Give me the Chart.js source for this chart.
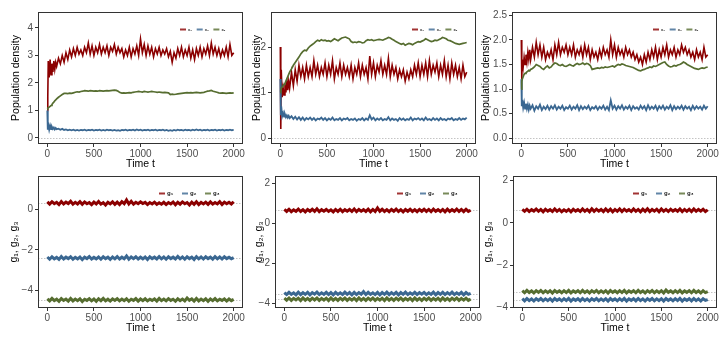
<!DOCTYPE html>
<html>
<head>
<meta charset="utf-8">
<script src="https://cdn.jsdelivr.net/npm/chart.js@4/dist/chart.umd.min.js"></script>
<style>
  html, body { margin: 0; padding: 0; background: #fff; }
  body { width: 727px; height: 338px; position: relative; overflow: hidden; }
  .panel { position: absolute; }
</style>
</head>
<body>
<script>
// time grid of the upper panels (finer at the start)
const tTop = [0, 5, 10, 20, 30, 40, 50, 60, 70, 80, 90, 100,
  120, 140, 160, 180, 200, 220, 240, 260, 280, 300,
  320, 340, 360, 380, 400, 420, 440, 460, 480, 500,
  520, 540, 560, 580, 600, 620, 640, 660, 680, 700,
  720, 740, 760, 780, 800, 820, 840, 860, 880, 900,
  920, 940, 960, 980, 1000, 1020, 1040, 1060, 1080, 1100,
  1120, 1140, 1160, 1180, 1200, 1220, 1240, 1260, 1280, 1300,
  1320, 1340, 1360, 1380, 1400, 1420, 1440, 1460, 1480, 1500,
  1520, 1540, 1560, 1580, 1600, 1620, 1640, 1660, 1680, 1700,
  1720, 1740, 1760, 1780, 1800, 1820, 1840, 1860, 1880, 1900,
  1920, 1940, 1960, 1980, 2000]

// time grid of the lower panels
const tBot = [0, 25, 50, 75, 100, 125, 150, 175, 200, 225,
  250, 275, 300, 325, 350, 375, 400, 425, 450, 475,
  500, 525, 550, 575, 600, 625, 650, 675, 700, 725,
  750, 775, 800, 825, 850, 875, 900, 925, 950, 975,
  1000, 1025, 1050, 1075, 1100, 1125, 1150, 1175, 1200, 1225,
  1250, 1275, 1300, 1325, 1350, 1375, 1400, 1425, 1450, 1475,
  1500, 1525, 1550, 1575, 1600, 1625, 1650, 1675, 1700, 1725,
  1750, 1775, 1800, 1825, 1850, 1875, 1900, 1925, 1950, 1975,
  2000]

// panel 1: population densities
const red1 = [1.0, 1.5, 2.8, 2.2, 2.85, 2.3, 2.7, 2.4, 2.8, 2.5, 2.75, 2.6,
  2.9, 2.7, 3.0, 2.75, 3.1, 2.85, 3.2, 2.95, 3.25, 3.0,
  3.3, 3.05, 3.2, 3.0, 3.3, 3.1, 3.45, 3.05, 3.35, 3.0,
  3.3, 3.1, 3.4, 3.05, 3.3, 3.1, 3.35, 3.0, 3.3, 3.15,
  3.4, 3.05, 3.3, 3.1, 3.25, 2.95, 3.2, 3.0, 3.3, 2.95,
  3.25, 3.05, 3.35, 3.0, 3.6, 3.1, 3.4, 3.0, 3.35, 3.05,
  3.3, 2.95, 3.25, 3.05, 3.3, 3.0, 3.2, 3.05, 3.25, 2.95,
  3.15, 2.75, 3.1, 2.9, 3.25, 3.0, 3.3, 2.95, 3.2, 3.0,
  3.3, 2.9, 3.2, 2.85, 3.25, 3.0, 3.3, 2.95, 3.25, 3.05,
  3.35, 3.0, 3.45, 3.05, 3.3, 3.0, 3.25, 2.95, 3.2, 3.0,
  3.3, 2.95, 3.4, 3.0, 3.1]
const green1 = [1.05, 1.08, 1.1, 1.12, 1.15, 1.18, 1.22, 1.27, 1.3, 1.35, 1.38, 1.42,
  1.48, 1.53, 1.58, 1.62, 1.62, 1.61, 1.63, 1.62, 1.64, 1.66,
  1.68, 1.67, 1.69, 1.7, 1.72, 1.71, 1.7, 1.72, 1.71, 1.7,
  1.71, 1.7, 1.72, 1.71, 1.7, 1.71, 1.72, 1.71, 1.72, 1.73,
  1.74, 1.73, 1.7, 1.65, 1.63, 1.64, 1.63, 1.64, 1.65, 1.64,
  1.66, 1.67, 1.68, 1.69, 1.68, 1.67, 1.69, 1.68, 1.67, 1.68,
  1.69, 1.68, 1.67, 1.66, 1.67, 1.66, 1.65, 1.66, 1.65, 1.64,
  1.58, 1.59, 1.58, 1.59, 1.6, 1.61, 1.62, 1.63, 1.64, 1.65,
  1.64, 1.65, 1.64, 1.65, 1.66, 1.65, 1.64, 1.65, 1.66, 1.68,
  1.7, 1.71, 1.73, 1.7, 1.68, 1.66, 1.64, 1.63, 1.64, 1.63,
  1.62, 1.63, 1.64, 1.63, 1.64]
const blue1 = [1.0, 0.3, 0.5, 0.3, 0.45, 0.32, 0.4, 0.33, 0.38, 0.31, 0.36, 0.32,
  0.34, 0.3, 0.33, 0.29, 0.31, 0.28, 0.3, 0.28, 0.3, 0.27,
  0.29, 0.27, 0.29, 0.28, 0.3, 0.27, 0.29, 0.28, 0.3, 0.27,
  0.29, 0.28, 0.3, 0.27, 0.29, 0.27, 0.3, 0.28, 0.29, 0.27,
  0.29, 0.27, 0.28, 0.26, 0.29, 0.28, 0.3, 0.27, 0.29, 0.28,
  0.3, 0.27, 0.31, 0.28, 0.3, 0.27, 0.29, 0.28, 0.3, 0.27,
  0.29, 0.28, 0.3, 0.27, 0.29, 0.28, 0.3, 0.27, 0.29, 0.26,
  0.28, 0.26, 0.29, 0.27, 0.3, 0.28, 0.29, 0.27, 0.3, 0.28,
  0.29, 0.27, 0.3, 0.28, 0.31, 0.28, 0.3, 0.27, 0.29, 0.28,
  0.3, 0.27, 0.29, 0.28, 0.3, 0.27, 0.29, 0.28, 0.3, 0.27,
  0.29, 0.28, 0.3, 0.28, 0.29]

// panel 2
const red2 = [2.0, 0.2, 1.5, 0.9, 1.1, 0.95, 1.2, 1.0, 1.3, 1.05, 1.25, 1.1,
  1.45, 1.15, 1.5, 1.25, 1.6, 1.35, 1.55, 1.3, 1.6, 1.35,
  1.55, 1.35, 1.7, 1.4, 1.6, 1.35, 1.55, 1.4, 1.65, 1.35,
  1.6, 1.4, 1.7, 1.3, 1.55, 1.4, 1.65, 1.35, 1.6, 1.4,
  1.55, 1.35, 1.6, 1.3, 1.55, 1.4, 1.65, 1.35, 1.6, 1.4,
  1.55, 1.3, 1.8, 1.4, 1.65, 1.35, 1.6, 1.45, 1.7, 1.4,
  1.6, 1.4, 1.75, 1.35, 1.6, 1.4, 1.55, 1.3, 1.5, 1.35,
  1.5, 1.25, 1.45, 1.3, 1.5, 1.35, 1.6, 1.4, 1.65, 1.35,
  1.6, 1.4, 1.65, 1.35, 1.7, 1.4, 1.6, 1.45, 1.65, 1.35,
  1.6, 1.4, 1.7, 1.35, 1.6, 1.3, 1.65, 1.4, 1.6, 1.35,
  1.55, 1.3, 1.6, 1.35, 1.45]
const green2 = [1.0, 1.05, 1.1, 1.12, 1.15, 1.18, 1.2, 1.25, 1.3, 1.35, 1.4, 1.45,
  1.52, 1.6, 1.66, 1.72, 1.78, 1.85, 1.9, 1.93, 1.92, 1.98,
  2.02, 2.05, 2.08, 2.12, 2.15, 2.13, 2.16, 2.14, 2.15, 2.13,
  2.14, 2.12, 2.15, 2.18, 2.16, 2.14, 2.17, 2.2, 2.21, 2.22,
  2.2, 2.18, 2.12, 2.1, 2.11, 2.1, 2.12, 2.11, 2.09, 2.1,
  2.14, 2.16, 2.15, 2.16, 2.14, 2.15, 2.16, 2.17, 2.16, 2.15,
  2.17, 2.19, 2.21, 2.2, 2.17, 2.15, 2.12, 2.1, 2.08, 2.06,
  2.08, 2.04, 2.06, 2.08, 2.07, 2.05, 2.08, 2.1, 2.12, 2.11,
  2.13, 2.15, 2.18, 2.16, 2.14, 2.12, 2.13, 2.15, 2.14, 2.16,
  2.18, 2.21, 2.2, 2.18, 2.15, 2.14, 2.12, 2.1, 2.08, 2.07,
  2.06, 2.07, 2.08, 2.09, 2.1]
const blue2 = [1.3, 0.5, 0.7, 0.48, 0.55, 0.47, 0.52, 0.46, 0.5, 0.45, 0.49, 0.44,
  0.48, 0.42, 0.47, 0.41, 0.46, 0.4, 0.45, 0.39, 0.44, 0.41,
  0.45, 0.4, 0.44, 0.39, 0.43, 0.41, 0.45, 0.4, 0.44, 0.39,
  0.43, 0.4, 0.45, 0.39, 0.42, 0.4, 0.44, 0.39, 0.43, 0.41,
  0.44, 0.39, 0.42, 0.4, 0.43, 0.38, 0.42, 0.4, 0.44, 0.39,
  0.43, 0.4, 0.5, 0.41, 0.45, 0.39, 0.43, 0.4, 0.44, 0.39,
  0.42, 0.4, 0.46, 0.39, 0.43, 0.4, 0.42, 0.38, 0.44, 0.4,
  0.43, 0.39, 0.42, 0.4, 0.45, 0.39, 0.43, 0.41, 0.44, 0.4,
  0.43, 0.39, 0.45, 0.4, 0.42, 0.39, 0.44, 0.4, 0.43, 0.39,
  0.44, 0.4, 0.42, 0.39, 0.43, 0.41, 0.44, 0.39, 0.42, 0.4,
  0.44, 0.4, 0.43, 0.41, 0.45]

// panel 3
const red3 = [2.0, 1.2, 1.6, 1.45, 1.65, 1.5, 1.7, 1.55, 1.75, 1.6, 1.8, 1.6,
  1.85, 1.65, 1.95, 1.7, 1.9, 1.65, 1.85, 1.6, 1.75, 1.65,
  1.8, 1.6, 1.9, 1.7, 1.95, 1.7, 1.85, 1.75, 1.9, 1.7,
  1.85, 1.7, 1.9, 1.65, 1.8, 1.7, 1.85, 1.65, 1.9, 1.7,
  1.85, 1.6, 1.8, 1.65, 1.75, 1.6, 1.8, 1.65, 1.85, 1.7,
  1.8, 1.65, 2.0, 1.7, 1.9, 1.65, 1.85, 1.7, 1.8, 1.65,
  1.85, 1.7, 1.8, 1.65, 1.75, 1.6, 1.7, 1.55, 1.65, 1.5,
  1.7, 1.55, 1.75, 1.6, 1.8, 1.65, 1.85, 1.6, 1.8, 1.65,
  1.85, 1.7, 1.9, 1.65, 1.8, 1.7, 1.85, 1.65, 1.8, 1.7,
  1.9, 1.75, 1.85, 1.7, 1.8, 1.65, 1.75, 1.6, 1.8, 1.65,
  1.75, 1.6, 1.85, 1.65, 1.7]
const green3 = [1.0, 1.15, 1.2, 1.25, 1.3, 1.32, 1.33, 1.35, 1.36, 1.38, 1.37, 1.4,
  1.42, 1.45, 1.5, 1.48, 1.46, 1.42, 1.4, 1.44, 1.47, 1.43,
  1.45, 1.5, 1.53, 1.52, 1.49, 1.48, 1.5, 1.47, 1.46, 1.48,
  1.5, 1.48, 1.47, 1.5, 1.52, 1.5, 1.51, 1.53, 1.5, 1.52,
  1.51, 1.48, 1.4, 1.41, 1.42, 1.43, 1.42, 1.44, 1.43, 1.45,
  1.44, 1.45, 1.46, 1.47, 1.45, 1.48, 1.5, 1.49, 1.51, 1.5,
  1.48, 1.47, 1.46, 1.45, 1.44, 1.42, 1.4, 1.38, 1.37, 1.39,
  1.4, 1.42, 1.43, 1.45, 1.44, 1.47, 1.46, 1.48, 1.5, 1.52,
  1.54, 1.55, 1.5, 1.47, 1.45, 1.46, 1.48, 1.47, 1.49, 1.5,
  1.52, 1.55, 1.53, 1.5, 1.48, 1.46, 1.44, 1.42, 1.41, 1.4,
  1.42, 1.43, 1.42, 1.44, 1.45]
const blue3 = [1.2, 0.65, 0.78, 0.62, 0.72, 0.6, 0.7, 0.6, 0.68, 0.58, 0.66, 0.6,
  0.67, 0.56, 0.65, 0.6, 0.68, 0.57, 0.64, 0.59, 0.66, 0.58,
  0.65, 0.6, 0.67, 0.58, 0.64, 0.6, 0.66, 0.57, 0.63, 0.6,
  0.66, 0.58, 0.64, 0.6, 0.67, 0.57, 0.65, 0.59, 0.64, 0.6,
  0.66, 0.57, 0.63, 0.6, 0.65, 0.58, 0.64, 0.6, 0.66, 0.58,
  0.64, 0.57, 0.77, 0.6, 0.66, 0.58, 0.65, 0.6, 0.67, 0.58,
  0.64, 0.6, 0.66, 0.57, 0.65, 0.6, 0.63, 0.58, 0.66, 0.6,
  0.65, 0.57, 0.67, 0.59, 0.64, 0.6, 0.66, 0.57, 0.65, 0.6,
  0.66, 0.58, 0.64, 0.6, 0.67, 0.57, 0.65, 0.59, 0.64, 0.6,
  0.66, 0.58, 0.65, 0.6, 0.64, 0.57, 0.66, 0.59, 0.65, 0.6,
  0.64, 0.58, 0.66, 0.6, 0.65]

// panel 4: g1, g2, g3
const red4 = [0.35, 0.24, 0.36, 0.26, 0.33, 0.22, 0.37, 0.25, 0.34, 0.27,
  0.38, 0.24, 0.33, 0.25, 0.36, 0.23, 0.35, 0.26, 0.32, 0.22,
  0.34, 0.25, 0.37, 0.24, 0.31, 0.2, 0.33, 0.25, 0.35, 0.23,
  0.34, 0.22, 0.36, 0.26, 0.45, 0.25, 0.38, 0.24, 0.33, 0.26,
  0.35, 0.27, 0.33, 0.22, 0.32, 0.25, 0.34, 0.23, 0.31, 0.24,
  0.33, 0.22, 0.32, 0.25, 0.34, 0.21, 0.33, 0.24, 0.35, 0.26,
  0.32, 0.2, 0.34, 0.23, 0.36, 0.22, 0.33, 0.25, 0.34, 0.23,
  0.35, 0.24, 0.32, 0.25, 0.36, 0.22, 0.34, 0.26, 0.33, 0.25,
  0.36]
const blue4 = [-2.35, -2.46, -2.34, -2.44, -2.37, -2.47, -2.33, -2.45, -2.36, -2.43,
  -2.34, -2.46, -2.37, -2.44, -2.35, -2.48, -2.36, -2.43, -2.33, -2.45,
  -2.37, -2.44, -2.35, -2.46, -2.34, -2.43, -2.36, -2.47, -2.35, -2.44,
  -2.33, -2.45, -2.36, -2.44, -2.3, -2.46, -2.35, -2.43, -2.34, -2.45,
  -2.36, -2.44, -2.35, -2.47, -2.34, -2.43, -2.36, -2.45, -2.33, -2.44,
  -2.35, -2.46, -2.34, -2.43, -2.36, -2.45, -2.32, -2.44, -2.35, -2.46,
  -2.34, -2.43, -2.36, -2.47, -2.33, -2.44, -2.35, -2.45, -2.34, -2.43,
  -2.36, -2.46, -2.33, -2.44, -2.35, -2.45, -2.34, -2.43, -2.36, -2.44,
  -2.38]
const green4 = [-4.4, -4.5, -4.38, -4.49, -4.42, -4.52, -4.39, -4.48, -4.41, -4.51,
  -4.38, -4.5, -4.41, -4.49, -4.4, -4.53, -4.42, -4.48, -4.39, -4.5,
  -4.41, -4.52, -4.4, -4.49, -4.38, -4.5, -4.42, -4.51, -4.4, -4.48,
  -4.39, -4.5, -4.41, -4.49, -4.4, -4.52, -4.42, -4.48, -4.39, -4.51,
  -4.41, -4.49, -4.4, -4.5, -4.42, -4.48, -4.4, -4.51, -4.38, -4.49,
  -4.41, -4.5, -4.39, -4.48, -4.42, -4.52, -4.4, -4.49, -4.41, -4.5,
  -4.36, -4.47, -4.4, -4.51, -4.38, -4.5, -4.41, -4.49, -4.4, -4.52,
  -4.41, -4.49, -4.39, -4.5, -4.42, -4.48, -4.4, -4.51, -4.41, -4.49,
  -4.43]

// panel 5
const red5 = [0.7, 0.6, 0.71, 0.59, 0.68, 0.61, 0.72, 0.6, 0.69, 0.58,
  0.7, 0.61, 0.71, 0.6, 0.73, 0.59, 0.69, 0.61, 0.7, 0.6,
  0.68, 0.58, 0.7, 0.6, 0.71, 0.59, 0.69, 0.61, 0.7, 0.6,
  0.72, 0.59, 0.7, 0.61, 0.69, 0.6, 0.71, 0.58, 0.7, 0.6,
  0.78, 0.61, 0.71, 0.6, 0.69, 0.59, 0.7, 0.61, 0.72, 0.6,
  0.69, 0.58, 0.7, 0.61, 0.71, 0.6, 0.69, 0.59, 0.7, 0.61,
  0.71, 0.6, 0.7, 0.59, 0.72, 0.61, 0.69, 0.6, 0.7, 0.58,
  0.71, 0.6, 0.69, 0.61, 0.72, 0.6, 0.7, 0.59, 0.71, 0.6,
  0.66]
const blue5 = [-3.45, -3.55, -3.44, -3.54, -3.46, -3.56, -3.43, -3.55, -3.45, -3.54,
  -3.44, -3.56, -3.45, -3.53, -3.43, -3.55, -3.46, -3.54, -3.44, -3.55,
  -3.45, -3.56, -3.44, -3.54, -3.46, -3.55, -3.43, -3.54, -3.45, -3.56,
  -3.44, -3.55, -3.45, -3.53, -3.4, -3.55, -3.44, -3.54, -3.46, -3.55,
  -3.44, -3.56, -3.45, -3.54, -3.43, -3.55, -3.45, -3.54, -3.44, -3.56,
  -3.45, -3.54, -3.43, -3.55, -3.46, -3.54, -3.44, -3.55, -3.45, -3.53,
  -3.44, -3.55, -3.46, -3.54, -3.43, -3.56, -3.45, -3.54, -3.44, -3.55,
  -3.45, -3.54, -3.43, -3.55, -3.46, -3.54, -3.44, -3.56, -3.45, -3.54,
  -3.49]
const green5 = [-3.73, -3.83, -3.72, -3.84, -3.74, -3.82, -3.73, -3.85, -3.72, -3.83,
  -3.74, -3.84, -3.73, -3.82, -3.72, -3.84, -3.74, -3.83, -3.73, -3.85,
  -3.72, -3.83, -3.74, -3.84, -3.73, -3.82, -3.72, -3.84, -3.74, -3.83,
  -3.73, -3.85, -3.72, -3.83, -3.74, -3.84, -3.73, -3.82, -3.72, -3.84,
  -3.74, -3.83, -3.73, -3.85, -3.72, -3.83, -3.74, -3.84, -3.73, -3.82,
  -3.72, -3.84, -3.74, -3.83, -3.73, -3.85, -3.72, -3.83, -3.74, -3.84,
  -3.73, -3.82, -3.72, -3.84, -3.74, -3.83, -3.73, -3.85, -3.72, -3.83,
  -3.74, -3.84, -3.73, -3.82, -3.72, -3.84, -3.74, -3.83, -3.73, -3.84,
  -3.78]

// panel 6
const red6 = [0.64, 0.55, 0.65, 0.54, 0.63, 0.56, 0.66, 0.55, 0.64, 0.53,
  0.65, 0.56, 0.63, 0.54, 0.66, 0.55, 0.64, 0.53, 0.62, 0.55,
  0.64, 0.53, 0.65, 0.56, 0.63, 0.54, 0.66, 0.55, 0.64, 0.53,
  0.67, 0.55, 0.65, 0.56, 0.64, 0.54, 0.66, 0.55, 0.65, 0.53,
  0.64, 0.55, 0.66, 0.54, 0.65, 0.56, 0.63, 0.54, 0.66, 0.55,
  0.64, 0.53, 0.65, 0.55, 0.67, 0.54, 0.64, 0.56, 0.65, 0.53,
  0.66, 0.55, 0.64, 0.54, 0.65, 0.56, 0.63, 0.55, 0.66, 0.54,
  0.64, 0.55, 0.65, 0.54, 0.66, 0.55, 0.64, 0.56, 0.65, 0.54,
  0.62]
const green6 = [-3.2, -3.3, -3.19, -3.29, -3.21, -3.31, -3.2, -3.28, -3.19, -3.3,
  -3.21, -3.29, -3.2, -3.31, -3.19, -3.28, -3.21, -3.3, -3.2, -3.29,
  -3.19, -3.31, -3.21, -3.28, -3.2, -3.3, -3.19, -3.29, -3.21, -3.31,
  -3.2, -3.28, -3.19, -3.3, -3.21, -3.29, -3.2, -3.31, -3.19, -3.28,
  -3.21, -3.3, -3.2, -3.29, -3.19, -3.31, -3.21, -3.28, -3.2, -3.3,
  -3.19, -3.29, -3.21, -3.31, -3.2, -3.28, -3.19, -3.3, -3.21, -3.29,
  -3.2, -3.31, -3.17, -3.28, -3.21, -3.3, -3.2, -3.29, -3.19, -3.31,
  -3.21, -3.28, -3.2, -3.3, -3.19, -3.29, -3.21, -3.31, -3.2, -3.29,
  -3.25]
const blue6 = [-3.58, -3.68, -3.57, -3.67, -3.59, -3.69, -3.58, -3.66, -3.57, -3.68,
  -3.59, -3.67, -3.58, -3.69, -3.57, -3.66, -3.59, -3.68, -3.58, -3.67,
  -3.57, -3.69, -3.59, -3.66, -3.58, -3.68, -3.57, -3.67, -3.59, -3.69,
  -3.58, -3.66, -3.57, -3.68, -3.59, -3.67, -3.58, -3.69, -3.57, -3.66,
  -3.59, -3.68, -3.58, -3.67, -3.57, -3.69, -3.59, -3.66, -3.58, -3.68,
  -3.57, -3.67, -3.59, -3.69, -3.58, -3.66, -3.57, -3.68, -3.59, -3.67,
  -3.58, -3.69, -3.57, -3.66, -3.59, -3.68, -3.58, -3.67, -3.57, -3.69,
  -3.59, -3.66, -3.58, -3.68, -3.57, -3.67, -3.59, -3.69, -3.58, -3.66,
  -3.62]

// tick labels
const xTicks = [0, 500, 1000, 1500, 2000]
const yTicks1 = [0, 1, 2, 3, 4]
const yTicks2 = [0, 1, 2]
const yTicks3 = [0, 0.5, 1, 1.5, 2, 2.5]
const yTicks4 = [-4, -2, 0]
const yTicks5 = [-4, -2, 0, 2]
const yTicks6 = [-4, -2, 0, 2]

// dotted reference levels
const ref1 = [0]
const ref4 = [0.3, -2.4, -4.45]
const ref5 = [0.65, -3.5, -3.78]
const ref6 = [0.6, -3.25, -3.63]

const topKeys = ['x₁', 'x₂', 'x₃']
const botKeys = ['g₁', 'g₂', 'g₃']

const RED = '#8b0000'
const BLUE = '#3a6791'
const GREEN = '#566d30'

Chart.defaults.font.family = '"Liberation Sans", Arial, sans-serif'
Chart.defaults.animation = false

const minus = v => (v < 0 ? '\u2212' + Math.abs(v) : String(v))

const decor = {
  id: 'decor',
  beforeDatasetsDraw (chart, args, o) {
    const {ctx, chartArea: a, scales: {y}} = chart
    ctx.save()
    ctx.strokeStyle = '#c4c4c4'
    ctx.lineWidth = 1
    ctx.setLineDash([1.5, 1.5])
    o.refs.forEach(v => {
      const py = Math.round(y.getPixelForValue(v)) + 0.5
      ctx.beginPath()
      ctx.moveTo(a.left, py)
      ctx.lineTo(a.right, py)
      ctx.stroke()
    })
    ctx.restore()
  },
  afterDraw (chart, args, o) {
    const {ctx, chartArea: a} = chart
    ctx.save()
    ctx.strokeStyle = '#333'
    ctx.lineWidth = 1
    ctx.strokeRect(a.left + 0.5, a.top + 0.5, a.right - a.left - 1, a.bottom - a.top - 1)
    // legend
    let x = a.right - o.legOff
    const y = a.top + 17.5
    o.keys.forEach((k, i) => {
      ctx.strokeStyle = [RED, BLUE, GREEN][i]
      ctx.globalAlpha = 0.8
      ctx.lineWidth = 2
      ctx.beginPath()
      ctx.moveTo(x, y)
      ctx.lineTo(x + 6, y)
      ctx.stroke()
      ctx.globalAlpha = 1
      ctx.fillStyle = '#1a1a1a'
      ctx.font = 'bold ' + o.keySize + 'px "Liberation Sans", Arial'
      ctx.textBaseline = 'middle'
      ctx.fillText(k, x + 8, y)
      x += o.legStep
    })
    ctx.restore()
  }
}

const panels = [
  {left: 10, top: 0, w: 235, h: 170, pt: 12, yw: 28, xh: 26, t: tTop,
    series: [[green1, GREEN, 1.7], [blue1, BLUE, 1.8], [red1, RED, 1.6]],
    yMin: -0.22, yMax: 4.58, yTicks: yTicks1, fmt: minus, yTitle: 'Population density',
    refs: ref1, keys: topKeys, legOff: 63, legStep: 16.7, keySize: 4},
  {left: 251, top: 0, w: 227, h: 170, pt: 12, yw: 20, xh: 26, t: tTop,
    series: [[green2, GREEN, 1.7], [blue2, BLUE, 1.8], [red2, RED, 1.6]],
    yMin: -0.13, yMax: 2.77, yTicks: yTicks2, fmt: minus, yTitle: 'Population density',
    refs: ref1, keys: topKeys, legOff: 64, legStep: 16.7, keySize: 4},
  {left: 480, top: 0, w: 239, h: 170, pt: 12, yw: 32, xh: 26, t: tTop,
    series: [[green3, GREEN, 1.7], [blue3, BLUE, 1.8], [red3, RED, 1.6]],
    yMin: -0.12, yMax: 2.57, yTicks: yTicks3, fmt: v => v.toFixed(1), yTitle: 'Population density',
    refs: ref1, keys: topKeys, legOff: 64, legStep: 16.7, keySize: 4},
  {left: 8, top: 170, w: 237, h: 164, pt: 6, yw: 30, xh: 26, t: tBot,
    series: [[green4, GREEN, 3], [blue4, BLUE, 3], [red4, RED, 3]],
    yMin: -4.85, yMax: 1.62, yTicks: yTicks4, fmt: minus, yTitle: 'g₁, g₂, g₃',
    refs: ref4, keys: botKeys, legOff: 84, legStep: 23, keySize: 6},
  {left: 253, top: 170, w: 229, h: 164, pt: 6, yw: 22, xh: 26, t: tBot,
    series: [[green5, GREEN, 3], [blue5, BLUE, 3], [red5, RED, 3]],
    yMin: -4.22, yMax: 2.37, yTicks: yTicks5, fmt: minus, yTitle: 'g₁, g₂, g₃',
    refs: ref5, keys: botKeys, legOff: 83, legStep: 23, keySize: 6},
  {left: 482, top: 170, w: 237, h: 164, pt: 6, yw: 31, xh: 26, t: tBot,
    series: [[green6, GREEN, 3], [blue6, BLUE, 3], [red6, RED, 3]],
    yMin: -4.02, yMax: 2.22, yTicks: yTicks6, fmt: minus, yTitle: 'g₁, g₂, g₃',
    refs: ref6, keys: botKeys, legOff: 84, legStep: 23, keySize: 6}
]

panels.forEach(p => {
  const div = document.createElement('div')
  div.className = 'panel'
  div.style.left = p.left + 'px'
  div.style.top = p.top + 'px'
  const canvas = document.createElement('canvas')
  canvas.width = p.w
  canvas.height = p.h
  canvas.style.width = p.w + 'px'
  canvas.style.height = p.h + 'px'
  div.appendChild(canvas)
  document.body.appendChild(div)

  new Chart(canvas, {
    type: 'line',
    data: {
      datasets: p.series.map(([vals, color, w]) => ({
        data: p.t.map((t, i) => ({x: t, y: vals[i]})),
        borderColor: color,
        borderWidth: w,
        pointRadius: 0,
        tension: 0,
        fill: false
      }))
    },
    options: {
      responsive: false,
      devicePixelRatio: 1,
      layout: {padding: {top: p.pt, right: 2, left: 0, bottom: 0}},
      plugins: {
        legend: {display: false},
        tooltip: {enabled: false},
        decor: {refs: p.refs, keys: p.keys, legOff: p.legOff, legStep: p.legStep, keySize: p.keySize}
      },
      scales: {
        x: {
          type: 'linear',
          min: -100,
          max: 2100,
          afterBuildTicks: s => { s.ticks = xTicks.map(v => ({value: v})) },
          afterFit: s => { s.height = p.xh; s.paddingLeft = 0; s.paddingRight = 0 },
          grid: {drawOnChartArea: false, drawTicks: true, tickLength: 3, color: '#333'},
          border: {display: false},
          ticks: {color: '#4d4d4d', font: {size: 10}, padding: 1, maxRotation: 0, callback: v => String(v)},
          title: {display: true, text: 'Time t', color: '#000', padding: 0, font: {size: 10.5, lineHeight: 1.2}}
        },
        y: {
          min: p.yMin,
          max: p.yMax,
          afterBuildTicks: s => { s.ticks = p.yTicks.map(v => ({value: v})) },
          afterFit: s => { s.width = p.yw; s.paddingTop = 0; s.paddingBottom = 0 },
          grid: {drawOnChartArea: false, drawTicks: true, tickLength: 3, color: '#333'},
          border: {display: false},
          ticks: {color: '#4d4d4d', font: {size: 10}, padding: 2, callback: v => p.fmt(v)},
          title: {display: true, text: p.yTitle, color: '#000', padding: 0, font: {size: 10.5, lineHeight: 1.2}}
        }
      }
    },
    plugins: [decor]
  })
})
</script>
</body>
</html>
